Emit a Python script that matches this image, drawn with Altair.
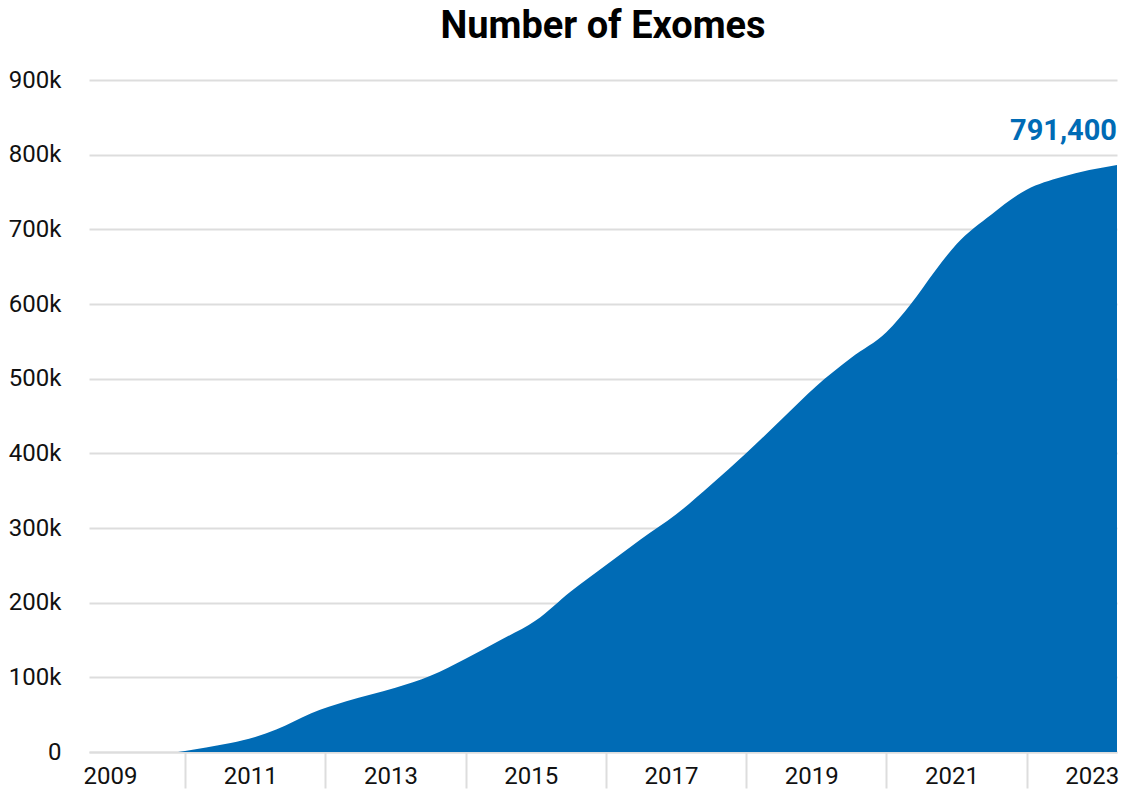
import altair as alt
import pandas as pd

years = [2009.9, 2010.0, 2010.3, 2010.65, 2011.0, 2011.3, 2011.8, 2012.3, 2013.0, 2013.5,
         2014.0, 2014.5, 2015.0, 2015.5, 2016.0, 2016.5, 2017.0, 2017.5, 2018.0, 2018.5,
         2019.0, 2019.5, 2020.0, 2020.35, 2020.7, 2021.0, 2021.5, 2022.0, 2022.5, 2023.29]
exomes = [0, 1500, 6000, 12000, 20000, 30000, 52000, 68000, 86000, 102000,
          125000, 150000, 176000, 215000, 250000, 285000, 318000, 358000, 400000, 445000,
          490000, 528000, 562000, 600000, 645000, 680000, 720000, 753000, 770000, 786000]
label_years = list(range(2009, 2024))
final_value = 791400
final_label = "791,400"
title_text = "Number of Exomes"

BLUE = "#006BB5"
GRID = "#dddddd"

df = pd.DataFrame({"year": years, "exomes": exomes})
lab = pd.DataFrame({"year": [years[-1]], "exomes": [final_value], "text": [final_label]})

xscale = alt.Scale(domain=[2008.63, 2023.29], nice=False, zero=False)
yscale = alt.Scale(domain=[0, 900000], nice=False)

xaxis = alt.Axis(
    values=label_years,
    title=None,
    grid=False,
    labelExpr="datum.value % 2 == 1 ? datum.label : ''",
    format="d",
    tickColor=GRID,
    tickOpacity=alt.condition("datum.value % 2 == 0", alt.value(1), alt.value(0)),
    tickSize=36,
    tickWidth=2,
    domainColor=GRID,
    domainWidth=2,
    labelPadding=-5,
    labelOffset=-5,
    labelFont="Roboto",
    labelFontSize=24,
    labelColor="#111111",
    labelBaseline="alphabetic",
)
yaxis = alt.Axis(
    values=list(range(0, 900001, 100000)),
    title=None,
    labelExpr="datum.value == 0 ? '0' : format(datum.value / 1000, 'd') + 'k'",
    ticks=False,
    domain=False,
    gridColor=GRID,
    gridWidth=2,
    labelPadding=28,
    labelFont="Roboto",
    labelFontSize=24,
    labelColor="#111111",
)

area = alt.Chart(df).mark_area(color=BLUE, interpolate="monotone").encode(
    x=alt.X("year:Q", scale=xscale, axis=xaxis),
    y=alt.Y("exomes:Q", scale=yscale, axis=yaxis),
)

text = alt.Chart(lab).mark_text(
    color=BLUE, font="Roboto", fontSize=29, fontWeight="bold",
    align="right", baseline="alphabetic", dy=-21, dx=0,
).encode(
    x=alt.X("year:Q", scale=xscale),
    y=alt.Y("exomes:Q", scale=yscale),
    text="text:N",
)

chart = alt.layer(area, text).properties(
    width=1028,
    height=672,
    padding={"left": 0, "top": 0, "right": 0, "bottom": 0},
    title=alt.TitleParams(
        title_text, font="Roboto", fontSize=38, fontWeight="bold", color="#000000",
        anchor="middle", offset=22,
    ),
).configure_view(stroke=None).configure_axis(gridOpacity=1, zindex=1)

chart.save("out.html", embed_options={"renderer": "svg", "actions": False})
